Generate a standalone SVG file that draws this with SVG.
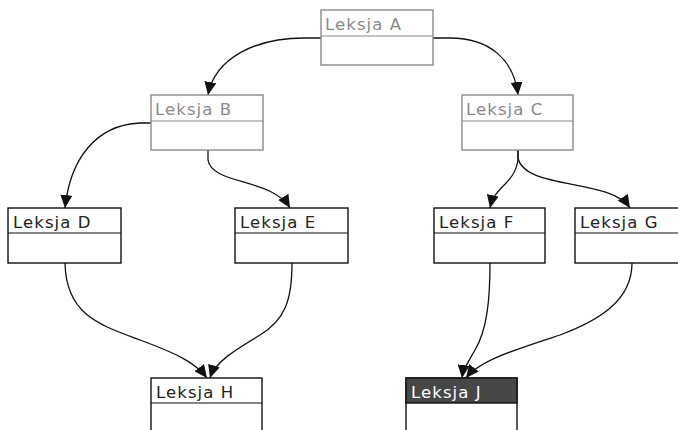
<svg xmlns="http://www.w3.org/2000/svg" width="678" height="430" viewBox="0 0 678 430">
  <style>
    .box { fill: #ffffff; stroke: #111111; stroke-width: 1.4; }
    .div { stroke: #111111; stroke-width: 1.2; }
    .lbl { font-family: "DejaVu Sans", "Liberation Sans", sans-serif; font-size: 16.5px; letter-spacing: 1.1px; fill: #222222; }
    .faded .box, .faded .div { stroke: #8a8a8a; }
    .faded .lbl { fill: #8a8a8a; }
    .dark .head { fill: #474747; stroke: #111111; stroke-width: 1.4; }
    .dark .lbl { fill: #ffffff; }
    .edge { fill: none; stroke: #111111; stroke-width: 1.3; marker-end: url(#arrow); }
  </style>
  <defs>
    <marker id="arrow" markerUnits="userSpaceOnUse" markerWidth="14" markerHeight="12" refX="13" refY="6" orient="auto">
      <path d="M0,0 L13,6 L0,12 z" fill="#111111"/>
    </marker>
  </defs>

  <g id="connectors">
    <path class="edge" d="M321,38 H305 C255,38 215,58 208,95"/>
    <path class="edge" d="M433,38 H450 C490,38 514,60 518,95"/>
    <path class="edge" d="M151,123 H140 C95,125 70,160 65,208"/>
    <path class="edge" d="M208,150 V160 C212,185 272,178 290,208"/>
    <path class="edge" d="M518,150 V160 C514,185 495,185 490,208"/>
    <path class="edge" d="M518,150 V158 C525,190 610,178 630,208"/>
    <path class="edge" d="M65,263 C66,315 100,325 140,340 C175,353 195,362 207,378"/>
    <path class="edge" d="M292,263 C292,300 285,320 260,335 C235,350 215,362 210,378"/>
    <path class="edge" d="M490,263 C490,300 487,330 475,350 C468,362 463,370 462,378"/>
    <path class="edge" d="M632,263 C632,300 600,320 560,335 C520,348 480,360 466,378"/>
  </g>

  <g id="lesson-a" class="faded">
    <rect class="box" x="321" y="10" width="112" height="55"/>
    <line class="div" x1="321" y1="36" x2="433" y2="36"/>
    <text class="lbl" x="325" y="30">Leksja A</text>
  </g>
  <g id="lesson-b" class="faded">
    <rect class="box" x="151" y="95" width="112" height="55"/>
    <line class="div" x1="151" y1="121" x2="263" y2="121"/>
    <text class="lbl" x="155" y="115">Leksja B</text>
  </g>
  <g id="lesson-c" class="faded">
    <rect class="box" x="462" y="95" width="111" height="55"/>
    <line class="div" x1="462" y1="121" x2="573" y2="121"/>
    <text class="lbl" x="466" y="115">Leksja C</text>
  </g>
  <g id="lesson-d">
    <rect class="box" x="8" y="208" width="113" height="55"/>
    <line class="div" x1="8" y1="233" x2="121" y2="233"/>
    <text class="lbl" x="13" y="228">Leksja D</text>
  </g>
  <g id="lesson-e">
    <rect class="box" x="235" y="208" width="113" height="55"/>
    <line class="div" x1="235" y1="233" x2="348" y2="233"/>
    <text class="lbl" x="240" y="228">Leksja E</text>
  </g>
  <g id="lesson-f">
    <rect class="box" x="434" y="208" width="111" height="55"/>
    <line class="div" x1="434" y1="233" x2="545" y2="233"/>
    <text class="lbl" x="439" y="228">Leksja F</text>
  </g>
  <g id="lesson-g">
    <rect class="box" x="575" y="208" width="112" height="55"/>
    <line class="div" x1="575" y1="233" x2="687" y2="233"/>
    <text class="lbl" x="580" y="228">Leksja G</text>
  </g>
  <g id="lesson-h">
    <rect class="box" x="151" y="378" width="111" height="60"/>
    <line class="div" x1="151" y1="403" x2="262" y2="403"/>
    <text class="lbl" x="156" y="398">Leksja H</text>
  </g>
  <g id="lesson-j" class="dark">
    <rect class="box" x="406" y="378" width="111" height="60"/>
    <rect class="head" x="406" y="378" width="111" height="25"/>
    <text class="lbl" x="411" y="398">Leksja J</text>
  </g>
</svg>
